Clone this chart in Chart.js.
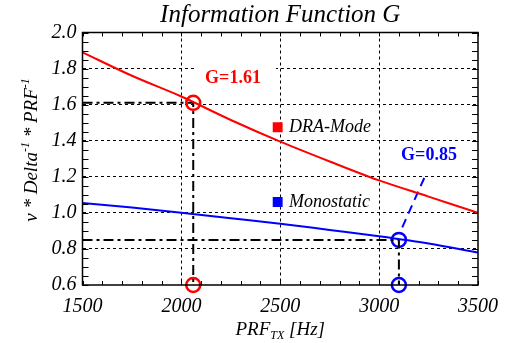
<!DOCTYPE html>
<html>
<head>
<meta charset="utf-8">
<script src="https://cdn.jsdelivr.net/npm/chart.js@4"></script>
<style>
  html, body { margin: 0; padding: 0; background: #fff; }
  #wrap { width: 510px; height: 343px; }
</style>
</head>
<body>
<div id="wrap"><canvas id="chart"></canvas></div>
<script>
const prf = [1500, 1750, 2000, 2250, 2500, 2750, 3000, 3250, 3500];
const draMode = [1.89, 1.76, 1.645, 1.515, 1.395, 1.285, 1.18, 1.09, 1.00];
const monostatic = [1.055, 1.03, 1.0, 0.97, 0.94, 0.905, 0.87, 0.83, 0.78];

// operating points: PRF and G
const draPoint = [2060, 1.61];
const monoPoint = [3100, 0.85];
const yFloor = 0.6;

// dashed pointer to the G=0.85 label
const pointerX = [3117, 3235];
const pointerY = [0.92, 1.21];

// legend marker spots
const legendX = [2487, 2487];
const legendY = [1.475, 1.06];

const serif = "'Liberation Serif', 'Times New Roman', serif";
const RED = "#ff0000";
const BLUE = "#0000ff";

function xy(xs, ys) {
  return xs.map((x, i) => ({ x: x, y: ys[i] }));
}

// inward tick marks on all four sides + axis titles + annotations
const extras = {
  id: "extras",
  beforeDatasetsDraw(chart) {
    const ctx = chart.ctx;
    ctx.save();
    // label boxes
    ctx.fillStyle = "#fff";
    ctx.fillRect(196, 63, 80, 28);
    ctx.fillRect(391, 143, 72, 25);
    ctx.font = "bold 18px " + serif;
    ctx.textAlign = "center";
    ctx.textBaseline = "middle";
    ctx.fillStyle = RED;
    ctx.fillText("G=" + draPoint[1].toFixed(2), 233, 78);
    ctx.fillStyle = BLUE;
    ctx.fillText("G=" + monoPoint[1].toFixed(2), 429, 155);
    ctx.restore();
  },
  afterDraw(chart) {
    const ctx = chart.ctx;
    const x = chart.scales.x, y = chart.scales.y;
    const a = chart.chartArea;
    ctx.save();
    ctx.strokeStyle = "#000";
    ctx.lineWidth = 1.5;
    ctx.strokeRect(a.left, a.top, a.right - a.left, a.bottom - a.top);
    ctx.lineWidth = 1;
    ctx.beginPath();
    for (let v = 1500; v <= 3500; v += 100) {
      const px = Math.round(x.getPixelForValue(v)) + 0.5;
      ctx.moveTo(px, a.bottom); ctx.lineTo(px, a.bottom - 4);
      ctx.moveTo(px, a.top); ctx.lineTo(px, a.top + 4);
    }
    for (let i = 0; i <= 28; i++) {
      const v = 0.6 + i * 0.05;
      const py = Math.round(y.getPixelForValue(v)) + 0.5;
      ctx.moveTo(a.left, py); ctx.lineTo(a.left + 6, py);
      ctx.moveTo(a.right, py); ctx.lineTo(a.right - 6, py);
    }
    ctx.stroke();

    // legend texts
    ctx.fillStyle = "#000";
    ctx.font = "italic 18px " + serif;
    ctx.textAlign = "left";
    ctx.textBaseline = "middle";
    ctx.fillText("DRA-Mode", 289, 127);
    ctx.fillText("Monostatic", 289, 202);

    // x axis title with subscript
    const big = "italic 19px " + serif, small = "italic 12px " + serif;
    ctx.textBaseline = "alphabetic";
    ctx.font = big; const w1 = ctx.measureText("PRF").width;
    ctx.font = small; const w2 = ctx.measureText("TX").width;
    ctx.font = big; const w3 = ctx.measureText(" [Hz]").width;
    let sx = (a.left + a.right) / 2 - (w1 + w2 + w3) / 2;
    const by = 335;
    ctx.font = big; ctx.fillText("PRF", sx, by); sx += w1;
    ctx.font = small; ctx.fillText("TX", sx, by + 4); sx += w2;
    ctx.font = big; ctx.fillText(" [Hz]", sx, by);

    // y axis title with superscripts
    ctx.translate(37, 150);
    ctx.rotate(-Math.PI / 2);
    const parts = [["v * Delta", big, 0], ["-1", small, -8], [" * PRF", big, 0], ["-1", small, -8]];
    let tot = 0;
    parts.forEach(p => { ctx.font = p[1]; p.push(ctx.measureText(p[0]).width); tot += p[3]; });
    let tx = -tot / 2;
    parts.forEach(p => { ctx.font = p[1]; ctx.fillText(p[0], tx, p[2]); tx += p[3]; });
    ctx.restore();
  }
};

const gridColor = ctx => (ctx.tick && (ctx.index === 0 || ctx.index === ctx.scale.ticks.length - 1)) ? "rgba(0,0,0,0)" : "#000";

new Chart(document.getElementById("chart"), {
  type: "line",
  data: {
    datasets: [
      {
        data: xy(prf, draMode), borderColor: RED, borderWidth: 2,
        pointRadius: 0, cubicInterpolationMode: "monotone"
      },
      {
        data: xy(prf, monostatic), borderColor: BLUE, borderWidth: 2,
        pointRadius: 0, cubicInterpolationMode: "monotone"
      },
      {
        data: [{ x: prf[0], y: draPoint[1] }, { x: draPoint[0], y: draPoint[1] }, { x: draPoint[0], y: yFloor }],
        borderColor: "#000", borderWidth: 2, borderDash: [10, 4, 3, 4], pointRadius: 0
      },
      {
        data: [{ x: prf[0], y: monoPoint[1] }, { x: monoPoint[0], y: monoPoint[1] }, { x: monoPoint[0], y: yFloor }],
        borderColor: "#000", borderWidth: 2, borderDash: [10, 4, 3, 4], pointRadius: 0
      },
      {
        data: xy(pointerX, pointerY), borderColor: BLUE, borderWidth: 2,
        borderDash: [9, 6], pointRadius: 0
      },
      {
        data: [{ x: draPoint[0], y: draPoint[1] }, { x: draPoint[0], y: yFloor }],
        showLine: false, pointRadius: 7, pointBorderWidth: 2.5,
        pointBorderColor: RED, pointBackgroundColor: "rgba(0,0,0,0)", clip: false
      },
      {
        data: [{ x: monoPoint[0], y: monoPoint[1] }, { x: monoPoint[0], y: yFloor }],
        showLine: false, pointRadius: 7, pointBorderWidth: 2.5,
        pointBorderColor: BLUE, pointBackgroundColor: "rgba(0,0,0,0)", clip: false
      },
      {
        data: xy(legendX, legendY), showLine: false, pointStyle: "rect",
        pointRadius: 7, pointBorderWidth: 0,
        pointBackgroundColor: [RED, BLUE], pointBorderColor: [RED, BLUE]
      }
    ]
  },
  options: {
    responsive: true,
    maintainAspectRatio: false,
    animation: false,
    events: [],
    layout: { padding: { top: 0, right: 32, left: 0, bottom: 0 } },
    plugins: {
      legend: { display: false },
      tooltip: { enabled: false },
      title: {
        display: true,
        text: "Information Function G",
        fullSize: false,
        color: "#000",
        font: { family: serif, size: 25, style: "italic", weight: "normal", lineHeight: 1.1 },
        padding: { top: 2, bottom: 3 }
      }
    },
    scales: {
      x: {
        type: "linear", min: 1500, max: 3500,
        afterFit: s => { s.height = 58; },
        ticks: {
          stepSize: 500, color: "#000", padding: 10, maxRotation: 0,
          font: { family: serif, size: 20, style: "italic" },
          callback: v => String(v)
        },
        grid: { color: gridColor, lineWidth: 1, tickLength: 0 },
        border: { display: false, dash: [3, 3] }
      },
      y: {
        type: "linear", min: 0.6, max: 2.0,
        afterFit: s => { s.width = 82.5; },
        ticks: {
          stepSize: 0.2, color: "#000", padding: 6,
          font: { family: serif, size: 20, style: "italic" },
          callback: v => v.toFixed(1)
        },
        grid: { color: gridColor, lineWidth: 1, tickLength: 0 },
        border: { display: false, dash: [3, 3] }
      }
    }
  },
  plugins: [extras]
});
</script>
</body>
</html>
